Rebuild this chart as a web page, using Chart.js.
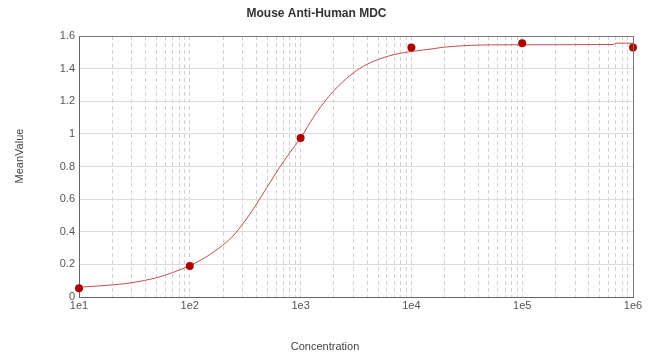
<!DOCTYPE html>
<html>
<head>
<meta charset="utf-8">
<script src="https://cdn.jsdelivr.net/npm/chart.js@4"></script>
<style>
  html, body { margin: 0; padding: 0; background: #fff; }
</style>
</head>
<body>
<canvas id="mdc-chart" width="650" height="360"></canvas>
<script>
// Concentraciones medidas y su valor medio
const concentrations = [1e1, 1e2, 1e3, 1e4, 1e5, 1e6];
const meanValues = [0.053, 0.19, 0.974, 1.53, 1.556, 1.53];

// Curva ajustada, leida punto a punto del grafico original
const curveX = [10, 20, 30, 50, 70, 100, 140, 200, 250, 300, 350, 400, 500, 600, 700, 800, 1000, 1300, 1800, 2600, 3700, 5200, 7400, 1e4, 1.5e4, 2e4, 6e4, 6.6e5, 7e5, 1e6];
const curveY = [0.06, 0.074, 0.088, 0.118, 0.15, 0.192, 0.245, 0.32, 0.38, 0.447, 0.51, 0.569, 0.675, 0.76, 0.83, 0.885, 0.974, 1.10, 1.23, 1.34, 1.415, 1.46, 1.49, 1.505, 1.52, 1.532, 1.546, 1.548, 1.556, 1.556];

// Marcas de los ejes
const xTickDecades = [1e1, 1e2, 1e3, 1e4, 1e5, 1e6];
const xTickLabels = ['1e1', '1e2', '1e3', '1e4', '1e5', '1e6'];
const minorSteps = [2, 3, 4, 5, 6, 7, 8, 9];
const yTicks = [0, 0.2, 0.4, 0.6, 0.8, 1, 1.2, 1.4, 1.6];
const yTickLabels = ['0', '0.2', '0.4', '0.6', '0.8', '1', '1.2', '1.4', '1.6'];

const FONT = '"Liberation Sans", Arial, sans-serif';

// Titulos de los ejes y marco superior/derecho
const framePlugin = {
  id: 'frame',
  afterDraw(chart) {
    const { ctx, chartArea } = chart;
    ctx.save();
    ctx.strokeStyle = '#777';
    ctx.lineWidth = 1;
    ctx.beginPath();
    ctx.moveTo(chartArea.left, chartArea.top + 0.5);
    ctx.lineTo(chartArea.right + 0.5, chartArea.top + 0.5);
    ctx.lineTo(chartArea.right + 0.5, chartArea.bottom);
    ctx.stroke();

    ctx.fillStyle = '#444';
    ctx.font = '11px ' + FONT;
    ctx.textAlign = 'center';
    ctx.textBaseline = 'middle';
    ctx.fillText('Concentration', chart.width / 2, 347);
    ctx.translate(20, 156);
    ctx.rotate(-Math.PI / 2);
    ctx.fillText('MeanValue', 0, 0);
    ctx.restore();
  }
};

const chartConfig = {
  type: 'scatter',
  data: {
    datasets: [{
      label: 'MeanValue',
      data: concentrations.map((x, i) => ({ x: x, y: meanValues[i] })),
      pointRadius: 4,
      pointHoverRadius: 4,
      pointBackgroundColor: '#b00000',
      pointBorderWidth: 0,
      clip: false,
      order: 0
    }, {
      label: 'Fit',
      data: curveX.map((x, i) => ({ x: x, y: curveY[i] })),
      showLine: true,
      borderColor: '#c0504d',
      borderWidth: 1,
      pointRadius: 0,
      cubicInterpolationMode: 'monotone',
      order: 1
    }]
  },
  options: {
    responsive: false,
    animation: false,
    devicePixelRatio: 1,
    layout: { padding: { left: 0, right: 17, top: 0, bottom: 0 } },
    plugins: {
      legend: { display: false },
      tooltip: { enabled: false },
      title: {
        display: true,
        text: 'Mouse Anti-Human MDC',
        color: '#333',
        font: { family: FONT, size: 12, weight: 'bold' },
        padding: { top: 6, bottom: 15.6 }
      }
    },
    scales: {
      x: {
        type: 'logarithmic',
        min: 10,
        max: 1e6,
        afterFit: scale => { scale.height = 63; },
        afterBuildTicks: scale => {
          const ticks = [];
          xTickDecades.forEach((d, i) => {
            ticks.push({ value: d });
            if (i < xTickDecades.length - 1) {
              minorSteps.forEach(m => ticks.push({ value: d * m }));
            }
          });
          scale.ticks = ticks;
        },
        ticks: {
          autoSkip: false,
          maxRotation: 0,
          padding: 2,
          color: '#555',
          font: { family: FONT, size: 11 },
          callback: value => {
            const i = xTickDecades.indexOf(value);
            return i >= 0 ? xTickLabels[i] : '';
          }
        },
        grid: { color: '#d2d2d2', drawTicks: false },
        border: { color: '#666', dash: [4, 3] }
      },
      y: {
        min: 0,
        max: 1.6,
        afterFit: scale => { scale.width = 79; },
        afterBuildTicks: scale => {
          scale.ticks = yTicks.map(v => ({ value: v }));
        },
        ticks: {
          padding: 4,
          color: '#555',
          font: { family: FONT, size: 11 },
          callback: (value, index) => yTickLabels[index]
        },
        grid: { color: '#dcdcdc', drawTicks: false },
        border: { color: '#666' }
      }
    }
  },
  plugins: [framePlugin]
};

const mdcChart = new Chart('mdc-chart', chartConfig);
</script>
</body>
</html>
